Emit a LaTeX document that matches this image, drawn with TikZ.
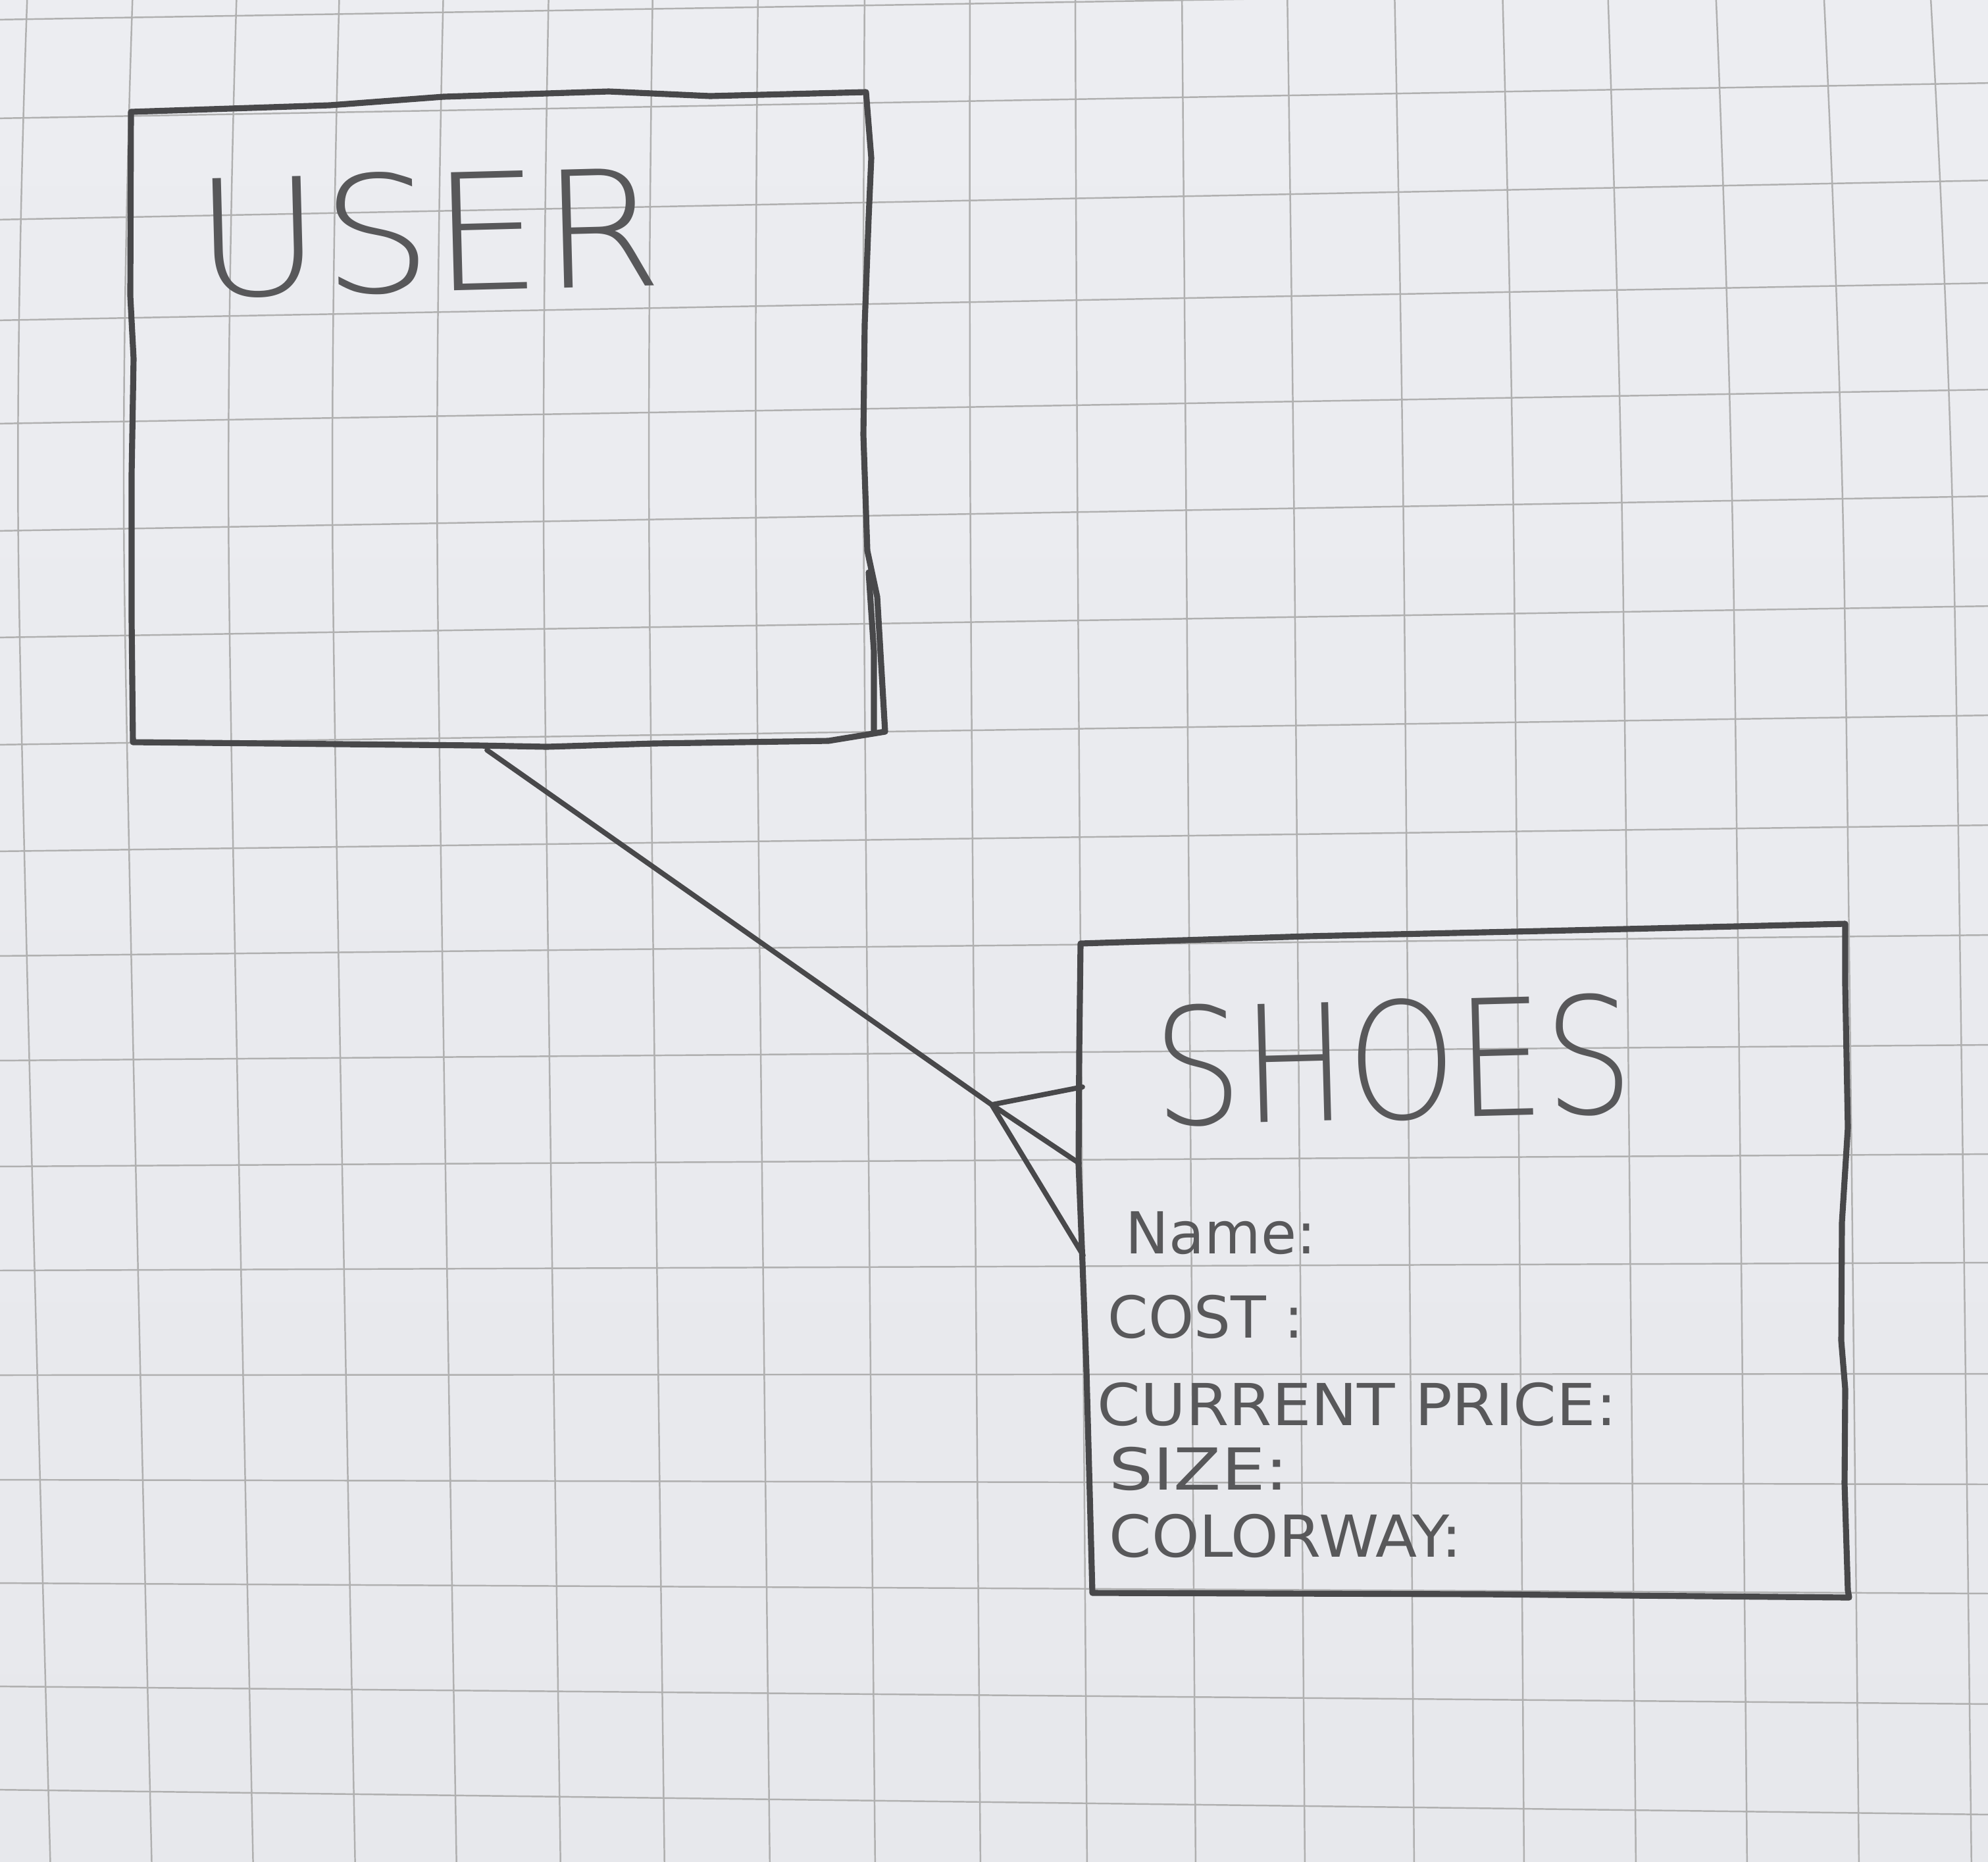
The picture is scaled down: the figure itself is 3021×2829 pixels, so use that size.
\documentclass[tikz,border=0pt]{standalone}
\usepackage{graphicx}
\usepackage{fontspec}
\newfontfamily\handlight{DejaVu Sans ExtraLight}
\newfontfamily\hand{DejaVu Sans}
\definecolor{ink}{RGB}{72,72,74}
\definecolor{ink2}{RGB}{88,88,90}
\definecolor{gridc}{RGB}{176,176,176}
\definecolor{papertop}{RGB}{236,237,241}
\definecolor{papermid}{RGB}{242,241,237}
\definecolor{paperbot}{RGB}{231,232,236}
\begin{document}
\begin{tikzpicture}[x=0.01cm,y=-0.01cm,
  gridline/.style={draw=gridc, line width=0.7pt},
  pen/.style={draw=ink, line width=2.6pt, line cap=round, line join=round},
  thinpen/.style={draw=ink, line width=2.2pt, line cap=round, line join=round},
  titletext/.style={text=ink2, anchor=base west, inner sep=0pt, font=\handlight\fontsize{70}{80}\selectfont},
  attrtext/.style={text=ink2, anchor=base west, inner sep=0pt, font=\hand\fontsize{25}{30}\selectfont}]
\useasboundingbox (0,0) rectangle (3021,2829);
\clip (0,0) rectangle (3021,2829);
\shade[top color=papertop, middle color=papermid, bottom color=paperbot] (0,0) rectangle (3021,2829);
% graph paper grid
\foreach \l/\r in {30/-20,180/126,334/274,487/430,644/592,807/754,969/921,1132/1087,1294/1254,1453/1421,1612/1588,1773/1754,1931/1919,2090/2088,2249/2256,2406/2422,2563/2590,2720/2758}
  \draw[gridline] (-10,\l) -- (3031,\r);
\foreach \t/\b in {42/77,202/231,360/385,516/540,674/694,834/852,992/1010,1152/1170,1314/1330,1474/1490,1634/1652,1796/1817,1956/1983,2119/2149,2283/2316,2443/2486,2607/2655,2771/2825,2933/2996}{
  \pgfmathsetmacro\m{\t+(\b-\t)*0.3-25+0.01433*\t}
  \draw[gridline] plot[smooth] coordinates {(\t,-20) (\m,850) (\b,2850)};
}
% USER box
\coordinate (uTL) at (199,170);
\coordinate (uTR) at (1316,140);
\coordinate (uBR) at (1345,1112);
\coordinate (uBL) at (202,1128);
\draw[pen] (uBL) -- (200,940) -- (200,722) -- (203,545) -- (198,450) -- (uTL)
  -- (501,160) -- (674,147) -- (925,139) -- (1079,146) -- (uTR)
  -- (1324,240) -- (1320,331) -- (1314,493) -- (1312,661) -- (1318,837) -- (1333,907) -- (uBR)
  -- (1259,1126) -- (993,1130) -- (831,1135) -- (726,1133) -- cycle;
\draw[pen] (1320,870) -- (1328,990) -- (1328,1112);
\node[titletext, rotate=1.5] (tuser) at (298,452) {\scalebox{1.07}[1]{USER}};
% SHOES box
\coordinate (sTL) at (1642,1434);
\coordinate (sTR) at (2804,1404);
\coordinate (sBR) at (2810,2428);
\coordinate (sBL) at (1660,2421);
\draw[pen] (sTL) -- (1986,1423) -- (2343,1415) -- (sTR)
  -- (2804,1497) -- (2808,1714) -- (2799,1858) -- (2798,2038) -- (2804,2111) -- (2803,2255) -- (2808,2417) -- (sBR)
  -- (2254,2423) -- (sBL)
  -- (1651,2083) -- (1645,1920) -- (1639,1770) -- (1640,1600) -- cycle;
\node[titletext, rotate=1.5] (tshoes) at (1755,1710) {\scalebox{0.86}[1]{SHOES}};
\node[attrtext] (aname) at (1710,1905) {Name:};
\node[attrtext] (acost) at (1683,2033) {COST :};
\node[attrtext] (aprice) at (1667,2166) {\scalebox{1.07}[1]{CURRENT PRICE:}};
\node[attrtext] (asize) at (1685,2264) {\scalebox{1.2}[1]{SIZE:}};
\node[attrtext] (acolor) at (1685,2366) {\scalebox{1.05}[1]{COLORWAY:}};
% relationship with crow's foot
\coordinate (ustart) at (740,1140);
\coordinate (foot) at (1507,1679);
\coordinate (p1) at (1645,1652);
\coordinate (p2) at (1640,1768);
\coordinate (p3) at (1646,1908);
\draw[thinpen] (ustart) -- (foot);
\draw[thinpen] (foot) -- (p1);
\draw[thinpen] (foot) -- (p2);
\draw[thinpen] (foot) -- (p3);
\end{tikzpicture}
\end{document}
